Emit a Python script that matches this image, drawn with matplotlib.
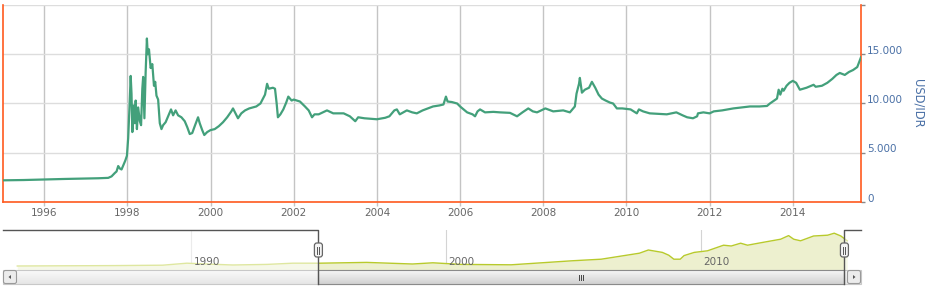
import matplotlib
matplotlib.use("Agg")
import matplotlib.pyplot as plt
from matplotlib.patches import Rectangle, FancyBboxPatch, Polygon
from matplotlib.transforms import ScaledTranslation, blended_transform_factory
import numpy as np

# ---------------- data ----------------
main_years = [1995.0, 1995.5, 1996.0, 1996.5, 1997.0, 1997.3, 1997.54, 1997.62, 1997.7, 1997.74,
              1997.78, 1997.82, 1997.86, 1997.9, 1997.95, 1997.99, 1998.02, 1998.05, 1998.08, 1998.1,
              1998.12, 1998.15, 1998.18, 1998.2, 1998.23, 1998.26, 1998.3, 1998.33, 1998.36, 1998.38,
              1998.41, 1998.44, 1998.47, 1998.49, 1998.52, 1998.56, 1998.6, 1998.64, 1998.67, 1998.7,
              1998.74, 1998.78, 1998.82, 1998.86, 1998.92, 1999.0, 1999.05, 1999.1, 1999.16, 1999.22,
              1999.3, 1999.38, 1999.44, 1999.5, 1999.56, 1999.62, 1999.7, 1999.74, 1999.8, 1999.85,
              1999.92, 2000.0, 2000.1, 2000.2, 2000.3, 2000.4, 2000.5, 2000.54, 2000.6, 2000.66,
              2000.74, 2000.83, 2000.93, 2001.02, 2001.1, 2001.2, 2001.31, 2001.36, 2001.4, 2001.5,
              2001.55, 2001.59, 2001.62, 2001.68, 2001.75, 2001.82, 2001.87, 2001.95, 2002.0, 2002.15,
              2002.27, 2002.36, 2002.44, 2002.5, 2002.6, 2002.7, 2002.8, 2002.95, 2003.2, 2003.35,
              2003.48, 2003.55, 2003.7, 2004.0, 2004.2, 2004.3, 2004.42, 2004.48, 2004.55, 2004.72,
              2004.85, 2004.96, 2005.1, 2005.35, 2005.5, 2005.6, 2005.66, 2005.7, 2005.8, 2005.93,
              2006.0, 2006.17, 2006.3, 2006.36, 2006.42, 2006.48, 2006.6, 2006.8, 2006.96, 2007.2,
              2007.37, 2007.5, 2007.64, 2007.75, 2007.85, 2008.05, 2008.24, 2008.48, 2008.64, 2008.76,
              2008.8, 2008.86, 2008.88, 2008.93, 2009.0, 2009.1, 2009.17, 2009.25, 2009.33, 2009.41,
              2009.5, 2009.6, 2009.68, 2009.77, 2009.9, 2010.1, 2010.25, 2010.3, 2010.4, 2010.56,
              2010.75, 2010.97, 2011.2, 2011.35, 2011.46, 2011.6, 2011.7, 2011.72, 2011.85, 2012.0,
              2012.1, 2012.3, 2012.57, 2012.97, 2013.2, 2013.38, 2013.45, 2013.62, 2013.66, 2013.7,
              2013.75, 2013.78, 2013.85, 2013.92, 2014.0, 2014.08, 2014.17, 2014.25, 2014.33, 2014.5,
              2014.55, 2014.7, 2014.83, 2014.95, 2015.05, 2015.13, 2015.25, 2015.35, 2015.45, 2015.55,
              2015.64]
usd_idr = [2200, 2230, 2290, 2340, 2380, 2410, 2450, 2600, 2950, 3100,
           3650, 3400, 3300, 3700, 4200, 4700, 6500, 9500, 12800, 11000,
           7100, 9800, 8000, 10300, 7400, 9600, 8200, 7800, 11500, 12700,
           8500, 13200, 16600, 15000, 15500, 13600, 14000, 11800, 12200, 10800,
           10400, 8000, 7400, 7800, 8100, 8900, 9400, 8800, 9300, 8800,
           8600, 8200, 7600, 6900, 7000, 7700, 8600, 8000, 7300, 6800,
           7100, 7300, 7400, 7700, 8100, 8600, 9200, 9500, 9000, 8500,
           9000, 9300, 9500, 9600, 9700, 10000, 10900, 12000, 11500, 11600,
           11500, 10000, 8600, 8900, 9400, 10100, 10700, 10300, 10400, 10200,
           9700, 9300, 8600, 8900, 8900, 9100, 9300, 9000, 9000, 8700,
           8200, 8600, 8500, 8400, 8550, 8700, 9300, 9400, 8900, 9300,
           9100, 9000, 9300, 9700, 9800, 9900, 10700, 10200, 10150, 10000,
           9700, 9100, 8900, 8700, 9200, 9400, 9100, 9150, 9100, 9050,
           8700, 9100, 9500, 9200, 9100, 9500, 9200, 9300, 9100, 9700,
           11000, 12000, 12600, 11100, 11400, 11600, 12200, 11600, 10900, 10500,
           10300, 10100, 10000, 9500, 9500, 9400, 9000, 9400, 9200, 9000,
           8950, 8900, 9100, 8800, 8600, 8500, 8700, 9000, 9100, 9000,
           9200, 9300, 9500, 9700, 9700, 9750, 10000, 10500, 11400, 10900,
           11500, 11300, 11800, 12100, 12300, 12100, 11400, 11500, 11600, 11900,
           11700, 11800, 12100, 12500, 12900, 13100, 12900, 13200, 13400, 13700,
           14700]

nav_years = [1983.2, 1985.0, 1987.0, 1988.9, 1989.85, 1990.6, 1991.65, 1993.0, 1994.0, 1995.05,
             1996.9, 1998.7, 1999.5, 2000.6, 2002.57, 2004.0, 2004.95, 2006.1, 2007.0, 2007.6,
             2007.95, 2008.5, 2008.75, 2008.95, 2009.2, 2009.35, 2009.75, 2010.27, 2010.9, 2011.2,
             2011.57, 2011.84, 2012.35, 2013.14, 2013.45, 2013.65, 2013.92, 2014.43, 2014.98, 2015.24,
             2015.5, 2015.75]
nav_values = [10, 10.5, 11, 12, 17, 15, 12.5, 14, 17, 17,
              19, 15, 18, 14, 13, 19, 23, 27, 36, 42,
              50, 44, 37, 27, 27, 36, 44, 48, 62, 60,
              67, 62, 68, 77, 86, 77, 73, 85, 87, 92,
              85, 73]

x_ticks = [1996, 1998, 2000, 2002, 2004, 2006, 2008, 2010, 2012, 2014]
y_ticks = [0, 5000, 10000, 15000, 20000]
y_tick_labels = ["0", "5.000", "10.000", "15.000", ""]
nav_ticks = [1990, 2000, 2010]
y_title = "USD/IDR"

# ---------------- styling ----------------
W, H = 933, 291
LINE = "#43a07b"
AXIS = "#ff5a1f"
LABEL_BLUE = "#4a70a6"
GREY_TXT = "#666666"
plt.rcParams["font.family"] = ["DejaVu Sans"]

fig = plt.figure(figsize=(W / 100, H / 100), dpi=100)


def px_axes(x0, y0, x1, y1, **kw):
    return fig.add_axes([x0 / W, 1 - y1 / H, (x1 - x0) / W, (y1 - y0) / H], **kw)


# ---------------- main chart ----------------
ax = px_axes(3, 5, 861, 202)
main_xlim = (1995.01, 2015.64)
ax.set_xlim(*main_xlim)
ax.set_ylim(0, 20000)
ax.plot(main_years, usd_idr, color=LINE, lw=1.6, solid_joinstyle="round", zorder=3)

ax.set_xticks(x_ticks)
ax.set_xticklabels([str(t) for t in x_ticks])
ax.set_yticks(y_ticks)
ax.set_yticklabels(y_tick_labels)
ax.yaxis.set_ticks_position("right")
ax.grid(axis="x", color="#c4c4c4", lw=1, zorder=0)
ax.grid(axis="y", color="#dddddd", lw=1, zorder=0)
ax.tick_params(axis="x", length=3, width=1, color="#c4c4c4", pad=1.5,
               labelsize=7.5, labelcolor=GREY_TXT)
ax.tick_params(axis="y", length=3, width=1, color="#888888", pad=1.5,
               labelsize=7.5, labelcolor=LABEL_BLUE)
for lab in ax.get_yticklabels():
    lab.set_transform(lab.get_transform() + ScaledTranslation(0, 0.045, fig.dpi_scale_trans))
for side in ("left", "bottom", "right"):
    ax.spines[side].set_color(AXIS)
    ax.spines[side].set_linewidth(1.2)
ax.spines["top"].set_visible(False)
ax.set_facecolor("white")

fig.text(918 / W, 1 - 103 / H, y_title, rotation=270, ha="center", va="center",
         fontsize=8.3, color=LABEL_BLUE)

# ---------------- navigator ----------------
nav = px_axes(3, 230, 861, 270)
nav_xlim = (1982.64, 2016.29)
nav.set_xlim(*nav_xlim)
nav.set_ylim(0, 100)
nav.fill_between(nav_years, nav_values, 0, color="#edf0cf", lw=0, zorder=1)
nav.plot(nav_years, nav_values, color="#b8ca2c", lw=1.0, zorder=2)
for t in nav_ticks:
    nav.axvline(t, color="#d4d4d4", lw=0.8, zorder=0.5)
    txt = nav.text(t, 0.2, str(t),
                   transform=blended_transform_factory(nav.transData, nav.transAxes),
                   ha="left", va="center", fontsize=7.5, color=GREY_TXT, zorder=6)
    txt.set_transform(txt.get_transform() + ScaledTranslation(0.03, 0, fig.dpi_scale_trans))
# mask outside selected range
nav.axvspan(nav_xlim[0], main_xlim[0], color="white", alpha=0.55, lw=0, zorder=4)
nav.axvspan(main_xlim[1], nav_xlim[1], color="white", alpha=0.55, lw=0, zorder=4)
nav.set_xticks([])
nav.set_yticks([])
for s in nav.spines.values():
    s.set_visible(False)
nav.patch.set_alpha(0)

# ---------------- decoration overlay (pixel coordinates) ----------------
ov = fig.add_axes([0, 0, 1, 1], zorder=10)
ov.set_xlim(0, W)
ov.set_ylim(H, 0)
ov.axis("off")
ov.patch.set_alpha(0)


def nav_px(year):
    return 3 + (year - nav_xlim[0]) / (nav_xlim[1] - nav_xlim[0]) * (861 - 3)


hl, hr = nav_px(main_xlim[0]), nav_px(main_xlim[1])

grad = np.linspace(0, 1, 20).reshape(-1, 1)
LSC = matplotlib.colors.LinearSegmentedColormap
# scrollbar track (lighter at top)
ov.imshow(grad, extent=(3, 861, 284, 270), cmap=LSC.from_list("g", ["#fafafa", "#e6e6e6"]),
          aspect="auto", zorder=1)
ov.add_patch(Rectangle((3, 270), 858, 14, fill=False, ec="#c8c8c8", lw=0.8, zorder=2))
# thumb
ov.imshow(grad, extent=(hl, hr, 284, 270), cmap=LSC.from_list("g2", ["#f6f6f6", "#d2d2d2"]),
          aspect="auto", zorder=3)
ov.add_patch(Rectangle((hl, 270), hr - hl, 14, fill=False, ec="#8a8a8a", lw=0.8, zorder=4))
cx = (hl + hr) / 2
for dx in (-2, 0, 2):
    ov.plot([cx + dx, cx + dx], [275, 280], color="#444444", lw=0.7, zorder=5)
# arrow buttons
for bx, direction in ((3, -1), (847, 1)):
    ov.add_patch(FancyBboxPatch((bx + 0.5, 270.5), 13, 13, boxstyle="round,pad=0,rounding_size=2",
                                fc="#ececec", ec="#9a9a9a", lw=0.8, zorder=6))
    mx, my = bx + 7, 277
    if direction < 0:
        pts = [(mx + 1, my - 2), (mx + 1, my + 2), (mx - 1.5, my)]
    else:
        pts = [(mx - 1, my - 2), (mx - 1, my + 2), (mx + 1.5, my)]
    ov.add_patch(Polygon(pts, closed=True, fc="#555555", ec="none", zorder=7))

# navigator outline
ov.plot([3, hl, hl], [230, 230, 284], color="#555555", lw=1.0, zorder=8)
ov.plot([861, hr, hr], [230, 230, 284], color="#555555", lw=1.0, zorder=8)
# handles
for hx in (hl, hr):
    ov.add_patch(FancyBboxPatch((hx - 4, 243), 8, 14, boxstyle="round,pad=0,rounding_size=2.5",
                                fc="#f4f4f4", ec="#666666", lw=0.9, zorder=9))
    for dx in (-1, 1):
        ov.plot([hx + dx, hx + dx], [246.5, 253.5], color="#555555", lw=0.7, zorder=10)

fig.savefig("out.png", dpi=100, facecolor="white")
